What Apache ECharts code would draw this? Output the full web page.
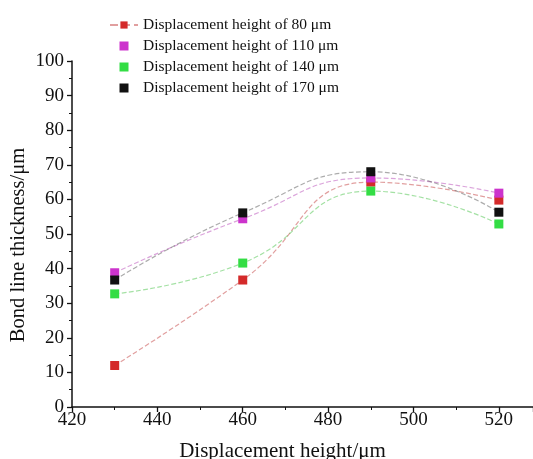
<!DOCTYPE html>
<html><head><meta charset="utf-8">
<script src="https://cdn.jsdelivr.net/npm/echarts@6/dist/echarts.min.js"></script>
<style>html,body{margin:0;padding:0;background:#fff}#c{width:533px;height:459px}</style>
</head><body><div id="c"></div>
<script>
const xValues = [430, 460, 490, 520];
const seriesNames = ['Displacement height of 80 μm','Displacement height of 110 μm','Displacement height of 140 μm','Displacement height of 170 μm'];
const h80  = [12, 36.7, 65, 59.8];
const h110 = [38.8, 54.4, 66.2, 61.8];
const h140 = [32.7, 41.6, 62.4, 52.9];
const h170 = [36.7, 56.1, 68, 56.3];
const yTicks = [0,10,20,30,40,50,60,70,80,90,100];
const xTicks = [420,440,460,480,500,520];

const colors = ['#d42a2a','#cc33cc','#33dd44','#111111'];
const lineColors = ['rgba(200,80,80,0.55)','rgba(190,90,190,0.55)','rgba(90,200,90,0.55)','rgba(90,90,90,0.5)'];
const data = [h80,h110,h140,h170];
const font = 'Liberation Serif, Times New Roman, serif';
const squareIcon = 'path://M0,0L10,0L10,10L0,10Z';

const chart = echarts.init(document.getElementById('c'));
chart.setOption({
  animation:false,
  backgroundColor:'#fff',
  grid:{left:72, top:61, right:0, bottom:52, containLabel:false, outerBoundsMode:'none'},
  legend:{
    orient:'vertical', left:104, top:12, itemGap:5, itemWidth:28, itemHeight:9,
    textStyle:{fontFamily:font, fontSize:15.5, color:'#111'},
    data: seriesNames.map((n,i)=> i===0 ? {name:n} : {name:n, icon:squareIcon, itemStyle:{color:colors[i]}})
  },
  xAxis:{
    type:'value', min:420, max:528, interval:20,
    name:'Displacement height/μm', nameLocation:'middle', nameGap:34, nameMoveOverlap:false,
    nameTextStyle:{fontFamily:font, fontSize:21, color:'#111', padding:[0,40,0,0]},
    axisLine:{show:true, lineStyle:{color:'#111', width:1.5}},
    axisTick:{show:true, inside:false, length:5, lineStyle:{color:'#111', width:1.3}},
    minorTick:{show:true, splitNumber:2, length:3, lineStyle:{color:'#111'}},
    axisLabel:{fontFamily:font, fontSize:19, color:'#111', showMaxLabel:false, margin:4,
      formatter:v=> xTicks.includes(v)? String(v):''},
    splitLine:{show:false}
  },
  yAxis:{
    type:'value', min:0, max:100, interval:10,
    name:'Bond line thickness/μm', nameLocation:'middle', nameGap:43, nameMoveOverlap:false,
    nameTextStyle:{fontFamily:font, fontSize:20.5, color:'#111', padding:[0,22,0,0]},
    axisLine:{show:true, lineStyle:{color:'#111', width:1.5}},
    axisTick:{show:true, inside:false, length:5, lineStyle:{color:'#111', width:1.3}},
    minorTick:{show:true, splitNumber:2, length:3, lineStyle:{color:'#111'}},
    axisLabel:{fontFamily:font, fontSize:19, color:'#111', margin:8,
      formatter:v=> yTicks.includes(v)? String(v):''},
    splitLine:{show:false}
  },
  series: seriesNames.map((n,i)=>({
    name:n, type:'line', smooth:0.5,
    data: xValues.map((x,j)=>[x, data[i][j]]),
    symbol:'rect', symbolSize:9,
    itemStyle:{color:colors[i]},
    lineStyle:{color:lineColors[i], width:1.2, type:'dashed'},
    z: 2+i
  }))
});
</script></body></html>
